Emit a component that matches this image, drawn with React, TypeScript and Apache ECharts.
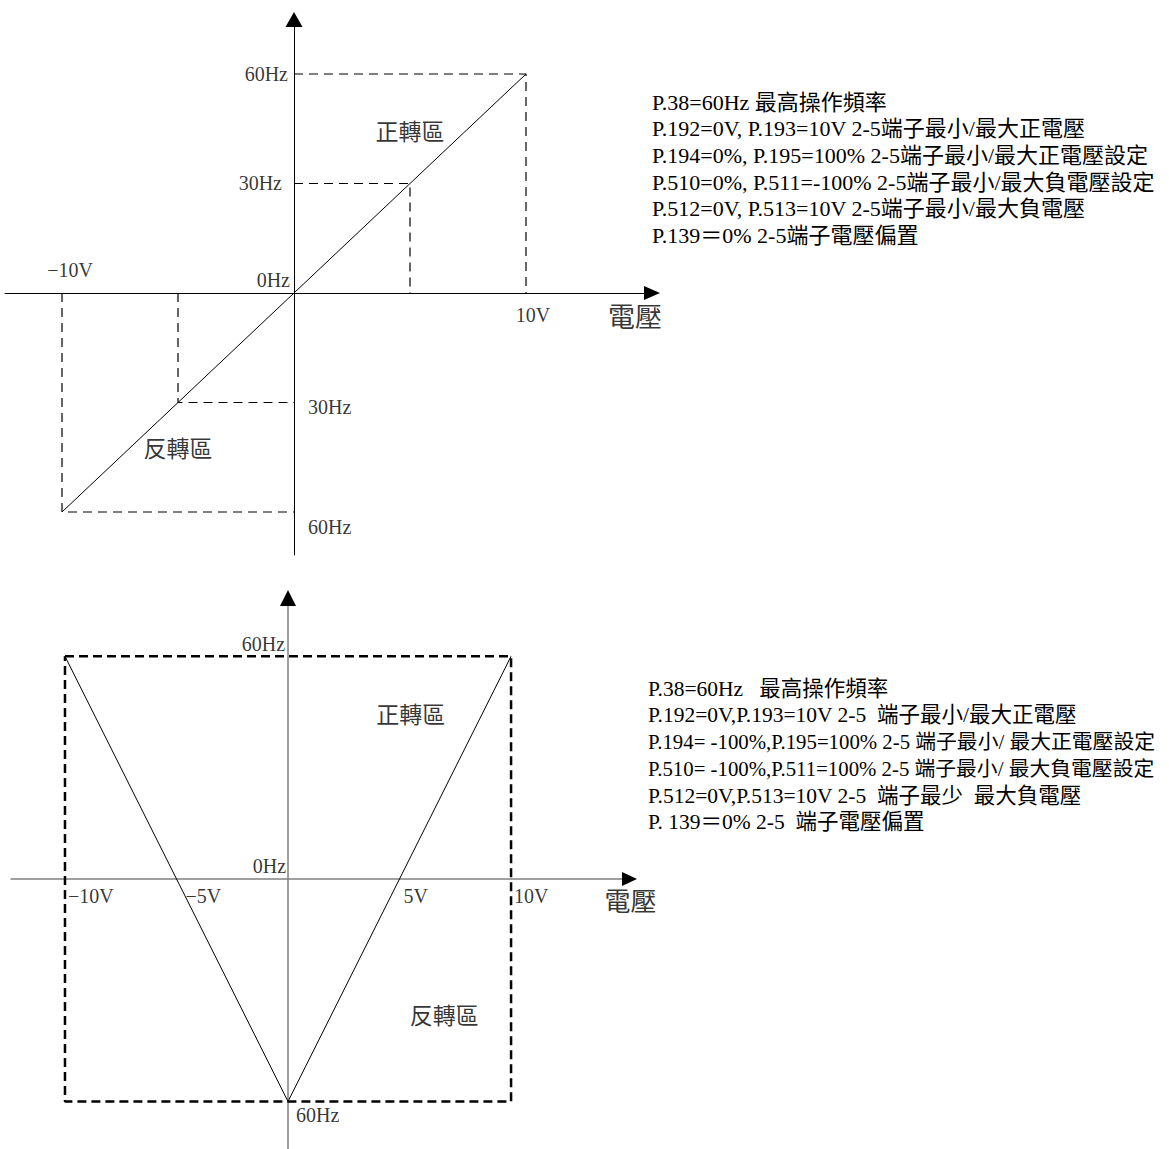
import React, { useEffect, useRef } from "react";
import * as echarts from "echarts";

// ---------- data ----------
// top diagram (voltage V, frequency Hz)
const topSolid: number[][] = [[-10, -60], [10, 60]];
const topDashed: number[][][] = [
  [[0, 60], [10, 60], [10, 0]],
  [[0, 30], [5, 30], [5, 0]],
  [[-10, 0], [-10, -60], [0, -60]],
  [[-5, 0], [-5, -30], [0, -30]],
];
const topLabels: [string, number, number][] = [
  ["60Hz", 0, 60],
  ["30Hz", 0, 30],
  ["0Hz", 0, 0],
  ["−10V", -10, 0],
  ["10V", 10, 0],
  ["30Hz", 0, -30],
  ["60Hz", 0, -60],
  ["電壓", 15, 0],
  ["正轉區", 5, 44],
  ["反轉區", -5, -43],
];
const topNotes: string[] = [
  "P.38=60Hz 最高操作頻率",
  "P.192=0V, P.193=10V 2-5端子最小/最大正電壓",
  "P.194=0%, P.195=100% 2-5端子最小/最大正電壓設定",
  "P.510=0%, P.511=-100% 2-5端子最小/最大負電壓設定",
  "P.512=0V, P.513=10V 2-5端子最小/最大負電壓",
  "P.139＝0% 2-5端子電壓偏置",
];

// bottom diagram
const bottomSolid: number[][] = [[-10, 60], [0, -60], [10, 60]];
const bottomBox: number[][] = [[-10, 60], [10, 60], [10, -60], [-10, -60], [-10, 60]];
const bottomLabels: [string, number, number][] = [
  ["60Hz", 0, 60],
  ["0Hz", 0, 0],
  ["−10V", -10, 0],
  ["−5V", -5, 0],
  ["5V", 5, 0],
  ["10V", 10, 0],
  ["電壓", 15, 0],
  ["正轉區", 5.5, 44],
  ["反轉區", 7, -37],
  ["60Hz", 0, -60],
];
const bottomNotes: string[] = [
  "P.38=60Hz   最高操作頻率",
  "P.192=0V,P.193=10V 2-5  端子最小/最大正電壓",
  "P.194= -100%,P.195=100% 2-5 端子最小/ 最大正電壓設定",
  "P.510= -100%,P.511=100% 2-5 端子最小/ 最大負電壓設定",
  "P.512=0V,P.513=10V 2-5  端子最少  最大負電壓",
  "P. 139＝0% 2-5  端子電壓偏置",
];

// ---------- styles ----------
const FONT = "'Liberation Serif', 'Times New Roman', 'Noto Sans CJK TC', serif";
const topNoteSizes = [22, 22, 22, 22, 22, 22];
const bottomNoteSizes = [21.5, 21.5, 20.8, 20.8, 21.5, 21.5];

// [offsetX, offsetY, align, fontSize]
const topLabelStyle: [number, number, string, number][] = [
  [-6, 0, "right", 20],
  [-12, 0, "right", 20],
  [-4, -13, "right", 20],
  [8, -23, "center", 20],
  [7, 22, "center", 20],
  [14, 4, "left", 20],
  [14, 15, "left", 20],
  [-7, 25, "center", 27],
  [0, 0, "center", 23],
  [0, 0, "center", 23],
];
const bottomLabelStyle: [number, number, string, number][] = [
  [-3, -12, "right", 20],
  [-2, -13, "right", 20],
  [3, 17, "left", 20],
  [9, 17, "left", 20],
  [4, 17, "left", 20],
  [3, 17, "left", 20],
  [8, 24, "center", 26],
  [0, 0, "center", 23],
  [0, 0, "center", 23],
  [8, 13, "left", 20],
];

function labelSeries(labels: [string, number, number][], styles: [number, number, string, number][], idx: number) {
  return {
    type: "scatter",
    xAxisIndex: idx,
    yAxisIndex: idx,
    symbolSize: 0,
    silent: true,
    z: 10,
    data: labels.map((l, i) => {
      const s = styles[i];
      return {
        value: [l[1], l[2]],
        label: {
          show: true,
          position: "inside",
          formatter: l[0],
          offset: [s[0], s[1]],
          align: s[2],
          verticalAlign: "middle",
          fontSize: s[3],
          fontFamily: FONT,
          color: "#000",
        },
      };
    }),
  };
}

function axisPair(idx: number, xr: number[], yr: number[], color: string, width: number, arrows: boolean, arrowX: number[], arrowY: number[]) {
  const common = {
    type: "value",
    gridIndex: idx,
    splitLine: { show: false },
    axisTick: { show: false },
    axisLabel: { show: false },
  };
  return {
    x: {
      ...common,
      min: xr[0],
      max: xr[1],
      axisLine: {
        show: true,
        onZero: true,
        symbol: arrows ? ["none", "triangle"] : "none",
        symbolSize: arrowX,
        lineStyle: { color, width },
      },
    },
    y: {
      ...common,
      min: yr[0],
      max: yr[1],
      axisLine: {
        show: true,
        onZero: true,
        symbol: arrows ? ["none", "triangle"] : "none",
        symbolSize: arrowY,
        lineStyle: { color, width },
      },
    },
  };
}

const topX = [-12.457, 15.431];
const topY = [-71.78, 74.93];
const botX = [-12.42, 15.31];
const botY = [-72.8, 75.7];

export default function App() {
  const ref = useRef<HTMLDivElement>(null);
  useEffect(() => {
    if (!ref.current) return;
    const chart = echarts.init(ref.current, undefined, { renderer: "svg" });
    const a0 = axisPair(0, topX, topY, "#000", 1, true, [14, 16], [17, 15]);
    const a1 = axisPair(1, botX, botY, "#808080", 1.5, false, [14, 15], [16, 16]);

    const series: any[] = [];
    series.push({
      type: "line",
      xAxisIndex: 0,
      yAxisIndex: 0,
      data: topSolid,
      symbol: "none",
      lineStyle: { color: "#000", width: 1 },
      silent: true,
    });
    topDashed.forEach((seg) => {
      series.push({
        type: "line",
        xAxisIndex: 0,
        yAxisIndex: 0,
        data: seg,
        symbol: "none",
        lineStyle: { color: "#000", width: 1.2, type: [9, 6] },
        silent: true,
      });
    });
    series.push({
      type: "line",
      xAxisIndex: 1,
      yAxisIndex: 1,
      data: bottomBox,
      symbol: "none",
      lineStyle: { color: "#000", width: 2.5, type: [9, 5] },
      silent: true,
    });
    series.push({
      type: "line",
      xAxisIndex: 1,
      yAxisIndex: 1,
      data: bottomSolid,
      symbol: "none",
      lineStyle: { color: "#000", width: 1 },
      silent: true,
      markPoint: {
        silent: true,
        label: { show: false },
        itemStyle: { color: "#000" },
        data: [
          { coord: [botX[1], 0], symbol: "triangle", symbolSize: [14, 15], symbolRotate: -90 },
          { coord: [0, botY[1]], symbol: "triangle", symbolSize: [16, 16], symbolRotate: 0 },
        ],
      },
    });
    series.push(labelSeries(topLabels, topLabelStyle, 0));
    series.push(labelSeries(bottomLabels, bottomLabelStyle, 1));

    const noteGroup = (lines: string[], sizes: number[], left: number, top: number) => ({
      type: "group",
      left,
      top,
      children: lines.map((t, i) => ({
        type: "text",
        x: 0,
        y: i * 26.7,
        style: {
          text: t,
          font: `${sizes[i]}px ${FONT}`,
          fill: "#000",
          verticalAlign: "top",
        },
      })),
    });

    chart.setOption({
      animation: false,
      backgroundColor: "#fff",
      grid: [
        { left: 5, top: 19.5, width: 647, height: 535.5 },
        { left: 11, top: 598, width: 618.5, height: 551 },
      ],
      xAxis: [a0.x, a1.x],
      yAxis: [a0.y, a1.y],
      series,
      graphic: [
        noteGroup(topNotes, topNoteSizes, 652, 91),
        noteGroup(bottomNotes, bottomNoteSizes, 648, 678),
      ],
    });
    return () => chart.dispose();
  }, []);
  return (
    <div
      ref={ref}
      style={{ position: "absolute", left: 0, top: 0, width: 1169, height: 1149 }}
    />
  );
}
